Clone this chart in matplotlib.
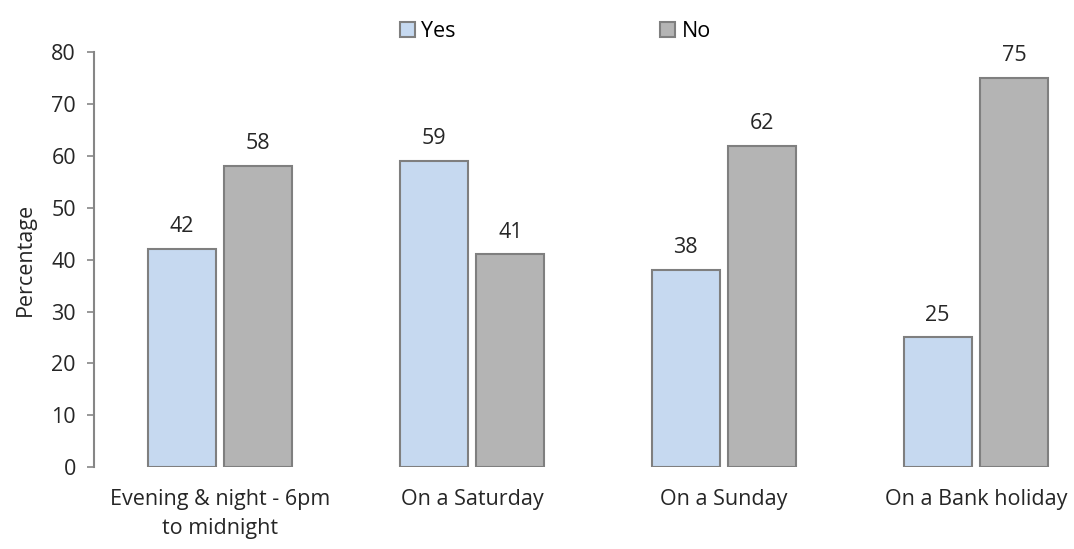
import numpy as np
import matplotlib.pyplot as plt

plt.rcParams['font.family'] = ['Open Sans', 'DejaVu Sans']

categories = ['Evening & night - 6pm\nto midnight', 'On a Saturday', 'On a Sunday', 'On a Bank holiday']
yes_vals = [42, 59, 38, 25]
no_vals = [58, 41, 62, 75]

fs = 15.5
fig = plt.figure(figsize=(10.74, 5.49), dpi=100)
ax = fig.add_axes([0.0875, 0.149, 0.9385, 0.756])

x = np.arange(len(categories))
w = 0.27
b1 = ax.bar(x - 0.152, yes_vals, w, color='#c6d9f0', edgecolor='#7f7f7f', linewidth=1.5, label='Yes')
b2 = ax.bar(x + 0.152, no_vals, w, color='#b4b4b4', edgecolor='#7f7f7f', linewidth=1.5, label='No')

for bars in (b1, b2):
    for r in bars:
        ax.text(r.get_x() + r.get_width() / 2, r.get_height() + 2.3, f'{r.get_height():.0f}',
                ha='center', va='bottom', fontsize=fs, color='#262626')

ax.set_xlim(-0.5, 3.5)
ax.set_ylim(0, 80)
ax.set_yticks(range(0, 81, 10))
ax.set_xticks(x)
ax.set_xticklabels(categories, fontsize=fs, color='#262626', linespacing=1.5)
ax.tick_params(axis='y', labelsize=fs, colors='#262626', length=5, width=1.2, color='#868686', pad=8)
ax.tick_params(axis='x', length=0, pad=16)
ax.set_ylabel('Percentage', fontsize=fs, color='#262626', labelpad=11)

for s in ['top', 'right', 'bottom']:
    ax.spines[s].set_visible(False)
ax.spines['left'].set_color('#868686')
ax.spines['left'].set_linewidth(1.5)

fig.legend(loc='center', bbox_to_anchor=(0.517, 0.943), ncol=2, frameon=False,
           fontsize=fs, columnspacing=9.5, handlelength=0.7, handleheight=0.7, handletextpad=0.3)

fig.savefig('out.png', dpi=100)
